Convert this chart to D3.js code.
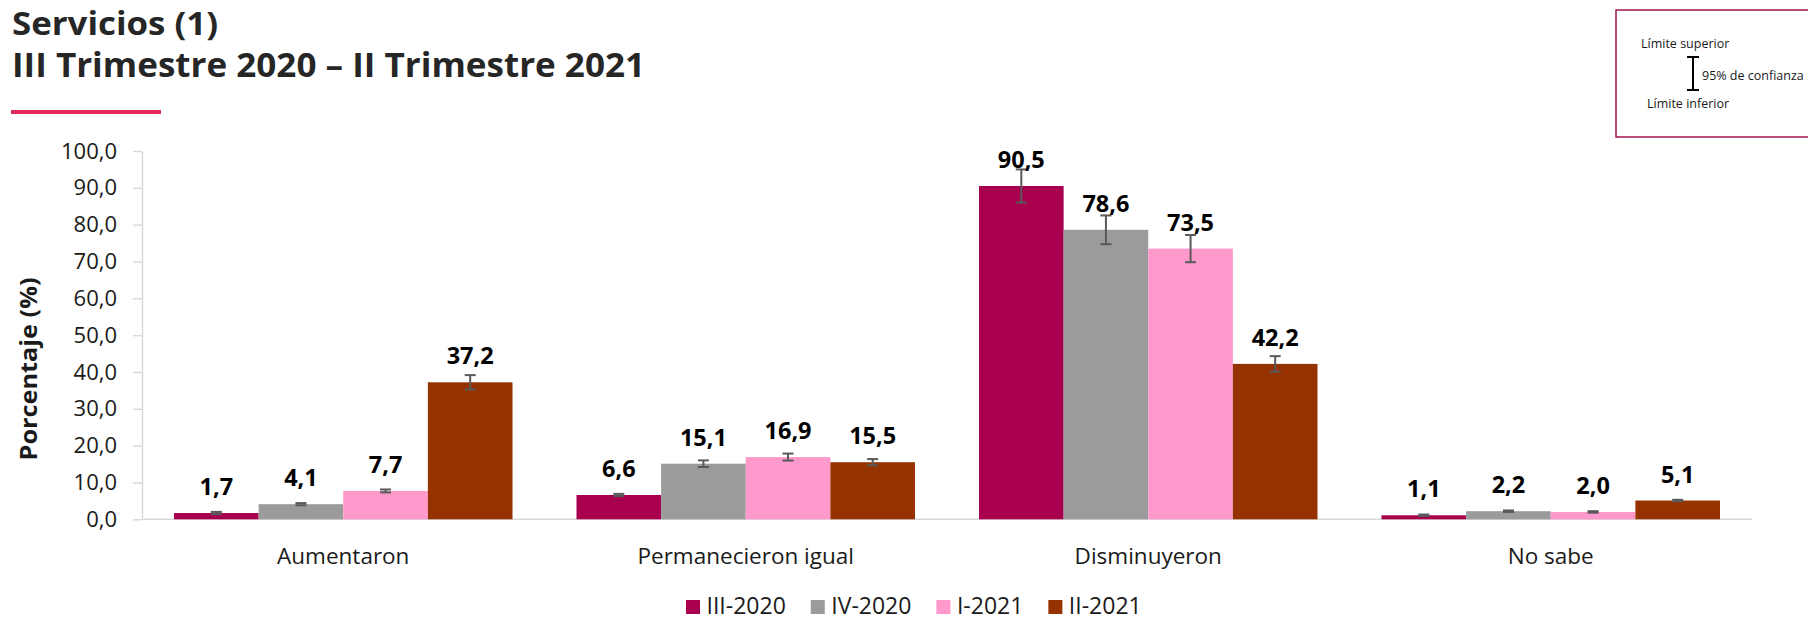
<!DOCTYPE html>
<html>
<head>
<meta charset="utf-8">
<script src="https://cdn.jsdelivr.net/npm/d3@7"></script>
<style>
  body { margin: 0; background: #fff; }
  svg { display: block; font-family: "Open Sans", sans-serif; }
</style>
</head>
<body>
<svg id="chart" width="1808" height="620" viewBox="0 0 1808 620"></svg>
<script>
// data
const categories = ["Aumentaron", "Permanecieron igual", "Disminuyeron", "No sabe"];
const series = ["III-2020", "IV-2020", "I-2021", "II-2021"];
const values = {
  "III-2020": [1.7, 6.6, 90.5, 1.1],
  "IV-2020": [4.1, 15.1, 78.6, 2.2],
  "I-2021": [7.7, 16.9, 73.5, 2.0],
  "II-2021": [37.2, 15.5, 42.2, 5.1]
};
// half width of the 95% interval
const margins = {
  "III-2020": [0.3, 0.3, 4.5, 0.2],
  "IV-2020": [0.3, 0.9, 3.9, 0.2],
  "I-2021": [0.4, 0.95, 3.7, 0.2],
  "II-2021": [1.95, 0.85, 2.1, 0.2]
};
const colors = ["#a8004f", "#9b9b9b", "#ff99cc", "#963200"];
const yTicks = [0, 10, 20, 30, 40, 50, 60, 70, 80, 90, 100];

const svg = d3.select("#chart");
const es = d3.formatLocale({ decimal: ",", thousands: ".", grouping: [3], currency: ["", ""] });
const fmt = es.format(".1f");

// titles
svg.append("text").attr("x", 12).attr("y", 35)
  .attr("font-size", 32).attr("font-weight", 700).attr("fill", "#262626")
  .attr("textLength", 206).attr("lengthAdjust", "spacingAndGlyphs")
  .text("Servicios (1)");
svg.append("text").attr("x", 12).attr("y", 77)
  .attr("font-size", 34).attr("font-weight", 700).attr("fill", "#262626")
  .attr("textLength", 633).attr("lengthAdjust", "spacingAndGlyphs")
  .text("III Trimestre 2020 – II Trimestre 2021");
svg.append("rect").attr("x", 11).attr("y", 110).attr("width", 150).attr("height", 4)
  .attr("fill", "#e22a5c");

// scales
const x = d3.scaleBand().domain(categories).range([142, 1752])
  .paddingInner(0.159).paddingOuter(0.0795);
const xs = d3.scaleBand().domain(series).range([0, x.bandwidth()]);
const y = d3.scaleLinear().domain([0, 100]).range([519.3, 151]);

// y axis
const yAxis = svg.append("g").attr("transform", "translate(142,0)")
  .call(d3.axisLeft(y).tickValues(yTicks).tickFormat(fmt)
    .tickSize(9).tickSizeOuter(0).tickPadding(16));
yAxis.select(".domain").attr("stroke", "#d9d9d9").attr("stroke-width", 1.5);
yAxis.selectAll(".tick line").attr("stroke", "#d9d9d9").attr("stroke-width", 1.5);
yAxis.selectAll(".tick text").attr("font-size", 22).attr("fill", "#1a1a1a")
  .attr("font-family", "'Open Sans', sans-serif");

svg.append("text")
  .attr("transform", "translate(37,369) rotate(-90)")
  .attr("text-anchor", "middle").attr("font-size", 23).attr("font-weight", 700)
  .attr("fill", "#1a1a1a").attr("textLength", 183).attr("lengthAdjust", "spacingAndGlyphs")
  .text("Porcentaje (%)");

// x baseline
svg.append("line").attr("x1", 142).attr("x2", 1752)
  .attr("y1", y(0)).attr("y2", y(0))
  .attr("stroke", "#d9d9d9").attr("stroke-width", 1.5);

// bars
const rows = [];
series.forEach((s, i) => {
  categories.forEach((c, j) => {
    rows.push({ s, c, i, v: values[s][j], m: margins[s][j] });
  });
});

const groups = svg.append("g").selectAll("g")
  .data(rows).enter().append("g")
  .attr("transform", d => `translate(${x(d.c) + xs(d.s)},0)`);

groups.append("rect")
  .attr("x", 0).attr("width", xs.bandwidth())
  .attr("y", d => y(d.v)).attr("height", d => y(0) - y(d.v))
  .attr("fill", d => colors[d.i]);

// error bars
const cap = 5.5;
const cx = xs.bandwidth() / 2;
groups.append("line")
  .attr("x1", cx).attr("x2", cx)
  .attr("y1", d => y(d.v + d.m)).attr("y2", d => y(d.v - d.m))
  .attr("stroke", "#595959").attr("stroke-width", 2);
groups.append("line")
  .attr("x1", cx - cap).attr("x2", cx + cap)
  .attr("y1", d => y(d.v + d.m)).attr("y2", d => y(d.v + d.m))
  .attr("stroke", "#595959").attr("stroke-width", 2);
groups.append("line")
  .attr("x1", cx - cap).attr("x2", cx + cap)
  .attr("y1", d => y(d.v - d.m)).attr("y2", d => y(d.v - d.m))
  .attr("stroke", "#595959").attr("stroke-width", 2);

// value labels
groups.append("text")
  .attr("x", cx).attr("y", d => y(d.v) - 18)
  .attr("text-anchor", "middle").attr("font-size", 23.5).attr("font-weight", 700)
  .attr("fill", "#000").text(d => fmt(d.v));

// category labels
svg.append("g").selectAll("text")
  .data(categories).enter().append("text")
  .attr("x", d => x(d) + x.bandwidth() / 2).attr("y", 564)
  .attr("text-anchor", "middle").attr("font-size", 22.5).attr("fill", "#1a1a1a")
  .text(d => d);

// legend at the bottom
const leg = svg.append("g");
let lx = 686;
series.forEach((s, i) => {
  leg.append("rect").attr("x", lx).attr("y", 600).attr("width", 14).attr("height", 14)
    .attr("fill", colors[i]);
  const t = leg.append("text").attr("x", lx + 20.5).attr("y", 613.5)
    .attr("font-size", 23).attr("fill", "#1a1a1a").text(s);
  lx += 20.5 + t.node().getComputedTextLength() + 25;
});

// confidence key box
const key = svg.append("g");
key.append("rect").attr("x", 1616).attr("y", 10).attr("width", 200).attr("height", 127)
  .attr("fill", "none").attr("stroke", "#a0164f").attr("stroke-width", 1.5);
key.append("text").attr("x", 1641).attr("y", 48).attr("font-size", 12.5)
  .attr("fill", "#1a1a1a").text("Límite superior");
key.append("text").attr("x", 1647).attr("y", 108).attr("font-size", 12.5)
  .attr("fill", "#1a1a1a").text("Límite inferior");
key.append("text").attr("x", 1702).attr("y", 80).attr("font-size", 12.5)
  .attr("fill", "#1a1a1a").text("95% de confianza");
key.append("line").attr("x1", 1693).attr("x2", 1693).attr("y1", 57).attr("y2", 90)
  .attr("stroke", "#000").attr("stroke-width", 2);
key.append("line").attr("x1", 1687).attr("x2", 1699).attr("y1", 57).attr("y2", 57)
  .attr("stroke", "#000").attr("stroke-width", 2);
key.append("line").attr("x1", 1687).attr("x2", 1699).attr("y1", 90).attr("y2", 90)
  .attr("stroke", "#000").attr("stroke-width", 2);
</script>
</body>
</html>
